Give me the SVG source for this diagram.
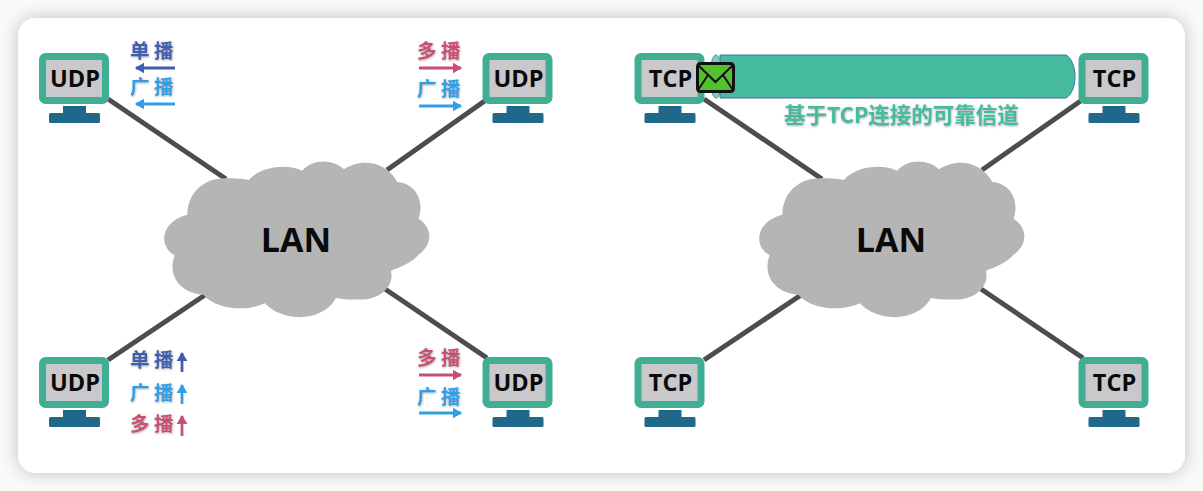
<svg xmlns="http://www.w3.org/2000/svg" width="1203" height="491" viewBox="0 0 1203 491">
<style>
.mon{fill:#c9c9cb;stroke:#3fae92;stroke-width:7}
.st{fill:#20688a}
.mt{font:700 23.500px "Open Sans","Noto Sans",sans-serif;fill:#0a0a0a;text-anchor:middle}
.lan{font:700 34px "Open Sans","Noto Sans",sans-serif;fill:#0a0a0a;text-anchor:middle}
.cn{font:700 19.500px "Noto Sans CJK SC",sans-serif;letter-spacing:4.500px;filter:url(#halo)}
.b{fill:#3f5fae}.c{fill:#2f9fe6}.r{fill:#c94f72}
.ln{stroke:#4d4d4d;stroke-width:5;fill:none}
.ab{stroke:#3f5fae;stroke-width:2.800;fill:none;marker-end:url(#mb)}
.ac{stroke:#2f9fe6;stroke-width:2.800;fill:none;marker-end:url(#mc)}
.ar{stroke:#c94f72;stroke-width:2.800;fill:none;marker-end:url(#mr)}
.cloud{fill:#b5b5b5}
</style>
<defs>
<filter id="card" x="-5%" y="-10%" width="110%" height="120%"><feDropShadow dx="0" dy="0" stdDeviation="9" flood-color="#000" flood-opacity="0.24"/></filter>
<filter id="halo" x="-10%" y="-10%" width="120%" height="120%"><feDropShadow dx="0.5" dy="0.8" stdDeviation="1" flood-color="#888" flood-opacity="0.75"/></filter>
<marker id="mb" markerWidth="4" markerHeight="4" refX="3" refY="2" orient="auto"><path d="M0 0L3.400 2L0 4Z" fill="#3f5fae"/></marker>
<marker id="mc" markerWidth="4" markerHeight="4" refX="3" refY="2" orient="auto"><path d="M0 0L3.400 2L0 4Z" fill="#2f9fe6"/></marker>
<marker id="mr" markerWidth="4" markerHeight="4" refX="3" refY="2" orient="auto"><path d="M0 0L3.400 2L0 4Z" fill="#c94f72"/></marker>
<path id="cl" class="cloud" d="M112 190C115 125 165 80 235 85C260 84 280 87 297 90C330 50 410 40 457 62C490 25 550 28 582 58C630 25 705 30 742 96C795 100 825 150 806 206C850 235 848 285 805 315C785 338 750 352 723 362C735 415 680 455 620 448C595 450 575 447 558 444C520 515 400 520 345 460C290 485 200 480 160 434C95 430 50 380 74 316C25 290 30 215 112 194Z"/>
<g id="scr"><rect class="mon" x="42.500" y="56.500" width="63" height="44" rx="3"/><rect class="st" x="63" y="106" width="23" height="8"/><rect class="st" x="49" y="113" width="51" height="10" rx="1.500"/></g>
</defs>
<rect width="1203" height="491" fill="#fafafa"/>
<rect x="18" y="18" width="1167" height="455" rx="18" fill="#fff" filter="url(#card)"/>
<g id="connectors">
<path class="ln" d="M108 99L226 179M387 170L486 100M205 295L108 360M385 289L487 358"/>
<path class="ln" d="M704 99L822 179M982 170L1082 100M801 295L704 360M981 289L1083 358"/>
</g>
<g id="lan-left"><use href="#cl" transform="translate(150 150) scale(.3333)"/><text class="lan" x="296" y="252">LAN</text></g>
<g id="lan-right"><use href="#cl" transform="translate(745 150) scale(.3333)"/><text class="lan" x="891" y="252">LAN</text></g>
<g id="udp-tl"><use href="#scr"/><text class="mt" x="75" y="87">UDP</text></g>
<g id="udp-tr"><use href="#scr" x="443.500"/><text class="mt" x="518.500" y="87">UDP</text></g>
<g id="udp-bl"><use href="#scr" y="304"/><text class="mt" x="75" y="391">UDP</text></g>
<g id="udp-br"><use href="#scr" x="443.500" y="304"/><text class="mt" x="518.500" y="391">UDP</text></g>
<g id="tube">
<path d="M720 55H1066C1078 62 1078 91 1066 98H720Z" fill="#45bb9f" stroke="#4a6fa0" stroke-width="1"/>
<ellipse cx="716" cy="76.500" rx="6" ry="21.500" fill="#7bcdc5" stroke="#4a8fa0" stroke-width="1"/>
</g>
<g id="tcp-tl"><use href="#scr" x="595.500"/><text class="mt" x="670.500" y="87">TCP</text></g>
<g id="tcp-tr"><use href="#scr" x="1039.500"/><text class="mt" x="1114.500" y="87">TCP</text></g>
<g id="tcp-bl"><use href="#scr" x="595.500" y="304"/><text class="mt" x="670.500" y="391">TCP</text></g>
<g id="tcp-br"><use href="#scr" x="1039.500" y="304"/><text class="mt" x="1114.500" y="391">TCP</text></g>
<g id="envelope">
<rect x="697.500" y="63.500" width="36" height="28" rx="3" fill="#52c22c" stroke="#111" stroke-width="3"/>
<path d="M698 65L715.500 82L733 65M698 90L708 75M733 90L723 75" fill="none" stroke="#111" stroke-width="2"/>
</g>
<text x="784" y="123" style="font:700 21.500px 'Noto Sans CJK SC',sans-serif;fill:#45bb9f;filter:url(#halo)">基于TCP连接的可靠信道</text>
<g id="labels-tl"><text class="cn b" x="130" y="58">单播</text><path class="ab" d="M175 68H136"/><text class="cn c" x="130" y="94">广播</text><path class="ac" d="M175 104H136"/></g>
<g id="labels-tr"><text class="cn r" x="417" y="58">多播</text><path class="ar" d="M419 68H461"/><text class="cn c" x="417" y="96">广播</text><path class="ac" d="M419 106H461"/></g>
<g id="labels-bl"><text class="cn b" x="130" y="367">单播</text><path class="ab" d="M182 372V353"/><text class="cn c" x="130" y="400">广播</text><path class="ac" d="M182 404V385"/><text class="cn r" x="130" y="431">多播</text><path class="ar" d="M182 436V416"/></g>
<g id="labels-br"><text class="cn r" x="417" y="365">多播</text><path class="ar" d="M419 375H461"/><text class="cn c" x="417" y="404">广播</text><path class="ac" d="M419 413H461"/></g>
</svg>
